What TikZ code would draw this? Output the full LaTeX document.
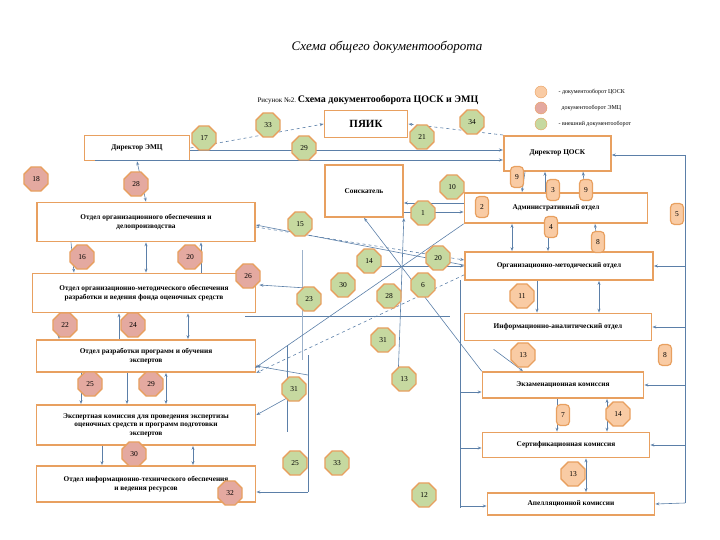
\documentclass[tikz,border=0pt]{standalone}
\usepackage{fontspec}
\setmainfont{Liberation Serif}
\usetikzlibrary{shapes.geometric,arrows.meta}
\definecolor{lc}{HTML}{5B7FA8}
\definecolor{bo}{HTML}{E8A060}
\definecolor{fo}{HTML}{F9CBA4}
\definecolor{fp}{HTML}{E4A9A0}
\definecolor{fg}{HTML}{C6D9A0}
\tikzset{
 box/.style={draw=bo,line width=1.7pt,fill=white,align=center,font=\bfseries\fontsize{7.3}{8.5}\selectfont,inner sep=1pt},
 oct/.style={regular polygon,regular polygon sides=8,draw=bo,line width=1.4pt,minimum size=26pt,inner sep=0pt,font=\fontsize{7.5}{8}\selectfont},
 gb/.style={oct,fill=fg}, pb/.style={oct,fill=fp},
 ob/.style={draw=bo,line width=1.2pt,fill=fo,rounded corners=4pt,minimum width=13pt,minimum height=21pt,inner sep=1pt,font=\fontsize{7.5}{8}\selectfont},
 ln/.style={draw=lc,line width=0.6pt,-{Stealth[length=4pt,open]}},
 bl/.style={draw=lc,line width=0.6pt,{Stealth[length=4pt,open]}-{Stealth[length=4pt,open]}},
 pl/.style={draw=lc,line width=0.6pt},
 dl/.style={ln,dashed},
}
\begin{document}
\begin{tikzpicture}[x=1pt,y=-1pt]
\useasboundingbox (0,0) rectangle (720,540);
\node (title) at (387,47) {\itshape\fontsize{13}{15}\selectfont Схема общего документооборота};
\node (sub) at (368,100) {\fontsize{7}{8}\selectfont Рисунок №2.\ \bfseries\fontsize{10}{12}\selectfont Схема документооборота ЦОСК и ЭМЦ};
% legend
\node[circle,fill=fo,draw=bo,minimum size=12pt,inner sep=0] (l1) at (541,92) {};
\node[circle,fill=fp,draw=bo,minimum size=12pt,inner sep=0] (l2) at (541,108) {};
\node[circle,fill=fg,draw=bo,minimum size=12pt,inner sep=0] (l3) at (541,124) {};
\node[anchor=west,font=\fontsize{6}{7}\selectfont] (t1) at (555,92) {- документооборот ЦОСК};
\node[anchor=west,font=\fontsize{6}{7}\selectfont] (t2) at (558,108) {документооборот ЭМЦ};
\node[anchor=west,font=\fontsize{6}{7}\selectfont] (t3) at (555,124) {- внешний документооборот};
% lines (behind)
\coordinate (rx1) at (685,155); \coordinate (rx2) at (685,503);
\draw[pl] (rx1) -- (rx2);
\coordinate (lx1) at (460,280); \coordinate (lx2) at (460,508);
\draw[pl] (lx1) -- (lx2);
\coordinate (v1a) at (287,345); \coordinate (v1b) at (287,432);
\draw[pl] (v1a) -- (v1b);
\coordinate (v2a) at (308,355); \coordinate (v2b) at (308,492);
\draw[pl] (v2a) -- (v2b);
\coordinate (h1a) at (245,316); \coordinate (h1b) at (450,316);
\draw[pl] (h1a) -- (h1b);
\coordinate (v3a) at (302,250); \coordinate (v3b) at (302,360);
\draw[pl,draw=lc!60] (v3a) -- (v3b);
% boxes
\node[box,minimum width=83pt,minimum height=27pt,font=\bfseries\fontsize{11}{12}\selectfont] (pyaik) at (366,124) {ПЯИК};
\node[box,minimum width=105pt,minimum height=25pt] (dem) at (137,148) {Директор ЭМЦ};
\node[box,minimum width=107pt,minimum height=35pt,anchor=north west] (dcosk) at (503,135) {Директор ЦОСК};
\node[box,minimum width=78pt,minimum height=52pt] (soisk) at (364,191) {Соискатель};
\node[box,minimum width=183pt,minimum height=30pt] (adm) at (556,208) {Административный отдел};
\node[box,minimum width=218pt,minimum height=39pt] (oob) at (146,222) {Отдел организационного обеспечения и\\делопроизводства};
\node[box,minimum width=188pt,minimum height=28pt] (om) at (559,266) {Организационно-методический отдел};
\node[box,minimum width=223pt,minimum height=39pt] (oomo) at (144,293) {Отдел организационно-методического обеспечения\\разработки и ведения фонда оценочных средств};
\node[box,minimum width=187pt,minimum height=27pt] (ia) at (558,327) {Информационно-аналитический отдел};
\node[box,minimum width=219pt,minimum height=32pt] (orp) at (146,356) {Отдел разработки программ и обучения\\экспертов};
\node[box,minimum width=161pt,minimum height=26pt] (ek) at (563,385) {Экзаменационная комиссия};
\node[box,minimum width=219pt,minimum height=40pt] (eksp) at (146,425) {Экспертная комиссия для проведения экспертизы\\оценочных средств и программ подготовки\\экспертов};
\node[box,minimum width=167pt,minimum height=25pt] (sk) at (566,445) {Сертификационная комиссия};
\node[box,minimum width=219pt,minimum height=36pt] (oit) at (146,484) {Отдел информационно-технического обеспечения\\и ведения ресурсов};
\node[box,minimum width=167pt,minimum height=22pt] (ak) at (571,504) {Апелляционной комиссии};
% connectors
\draw[dl] (dem.east) -- (pyaik.west);
\draw[dl] (dcosk.north west) -- (pyaik.east);
\coordinate (c150) at (190,150);
\draw[ln] (c150) -- (dcosk.west|-c150);
\coordinate (c160) at (95,160);
\draw[ln] (c160) -- (dcosk.west|-c160);
\draw[bl] (dem.south) -- (oob.north);
\coordinate (s203) at (0,203); \coordinate (s212) at (0,212);
\draw[ln] (adm.west|-s203) -- (soisk.east|-s203);
\draw[ln] (soisk.east|-s212) -- (adm.west|-s212);
\draw[ln] ([xshift=22]dcosk.south west) -- ([xshift=-34]adm.north);
\draw[ln] ([xshift=-11]adm.north) -- ([xshift=42]dcosk.south west);
\draw[ln] ([xshift=29]adm.north) -- ([xshift=80]dcosk.south west);
\draw[bl] ([xshift=-44]adm.south) -- ([xshift=-47]om.north);
\draw[ln] ([xshift=-8]adm.south) -- ([xshift=-11]om.north);
\draw[ln] ([xshift=39]om.north) -- ([xshift=39]adm.south);
\draw[ln] ([xshift=-22]om.south) -- ([xshift=-21]ia.north);
\draw[bl] ([xshift=40]om.south) -- ([xshift=41]ia.north);
\draw[ln] (rx1) -- (dcosk.east|-rx1);
\draw[ln] (685,266) -- (om.east);
\draw[ln] (685,327) -- (ia.east);
\draw[ln] (685,385) -- (ek.east);
\draw[ln] (685,445) -- (sk.east);
\draw[ln] (rx2) -- (ak.east);
\draw[ln] (460,392) -- (ek.west|-0,392);
\draw[ln] (460,448) -- (sk.west|-0,448);
\draw[ln] (460,506) -- (ak.west|-0,506);
\draw[ln] ([xshift=-6]ek.south) -- ([xshift=-9]sk.north);
\draw[bl] ([xshift=44]ek.south) -- ([xshift=41]sk.north);
\draw[bl] ([xshift=20]sk.south) -- ([xshift=15]ak.north);
\draw[ln] (ia.south west) ++(30,8) -- ([xshift=-40]ek.north);
% left column
\draw[ln] ([xshift=-75]oob.south) -- ([xshift=-70]oomo.north);
\draw[bl] (oob.south) -- ([xshift=2]oomo.north);
\draw[ln] ([xshift=57]oomo.north) -- ([xshift=55]oob.south);
\draw[ln] ([xshift=-85]oomo.south) -- ([xshift=-87]orp.north);
\draw[ln] ([xshift=-27]orp.north) -- ([xshift=-25]oomo.south);
\draw[bl] ([xshift=44]oomo.south) -- ([xshift=42]orp.north);
\draw[ln] ([xshift=-65]orp.south) -- ([xshift=-65]eksp.north);
\draw[ln] ([xshift=-19]orp.south) -- ([xshift=-19]eksp.north);
\draw[bl] ([xshift=20]orp.south) -- ([xshift=20]eksp.north);
\draw[ln] ([xshift=-44]eksp.south) -- ([xshift=-44]oit.north);
\draw[bl] ([xshift=47]eksp.south) -- ([xshift=47]oit.north);
\draw[ln] (v2b) -- (oit.east|-v2b);
\draw[ln] (308,375) -- ([yshift=-10]orp.east);
\draw[ln] (287,398) -- ([yshift=10]eksp.east);
% diagonals
\draw[ln] (om.north west) ++(0,14) -- ([yshift=-3]oob.east);
\draw[dl] (oob.east) ++(0,5) -- ([yshift=6]om.west);
\draw[ln] (adm.south west) -- (255,368);
\draw[dl] ([yshift=6]om.south west) -- (orp.south east);
\draw[ln] (ek.north west) -- (soisk.south);
\draw[ln] (398,380) -- (soisk.south east);
\draw[ln] (oomo.east) ++(50,-5) -- ([xshift=3,yshift=8]oomo.east);
\draw[ln] (om.west) ++(-90,0) -- (om.west);
% badges green
\node[gb] (g17) at (204,138) {17};
\node[gb] (g33) at (268,125) {33};
\node[gb] (g34) at (472,122) {34};
\node[gb] (g21) at (422,137) {21};
\node[gb] (g29) at (304,148) {29};
\node[gb] (g10) at (452,187) {10};
\node[gb] (g1) at (423,213) {1};
\node[gb] (g15) at (300,224) {15};
\node[gb] (g14) at (369,261) {14};
\node[gb] (g20) at (438,258) {20};
\node[gb] (g30) at (343,285) {30};
\node[gb] (g6) at (423,285) {6};
\node[gb] (g28) at (389,296) {28};
\node[gb] (g23) at (309,299) {23};
\node[gb] (g31a) at (383,340) {31};
\node[gb] (g13) at (404,379) {13};
\node[gb] (g31b) at (294,389) {31};
\node[gb] (g25) at (295,463) {25};
\node[gb] (g33b) at (337,463) {33};
\node[gb] (g12) at (424,495) {12};
% orange
\node[ob] (o9a) at (517,177) {9};
\node[ob] (o3) at (553,190) {3};
\node[ob] (o9b) at (586,190) {9};
\node[ob] (o2) at (482,207) {2};
\node[ob] (o5) at (677,214) {5};
\node[ob] (o4) at (551,227) {4};
\node[ob] (o8a) at (598,242) {8};
\node[oct,fill=fo] (o11) at (522,296) {11};
\node[oct,fill=fo] (o13a) at (523,355) {13};
\node[ob] (o8b) at (665,355) {8};
\node[ob] (o7) at (563,415) {7};
\node[oct,fill=fo] (o14) at (618,414) {14};
\node[oct,fill=fo] (o13b) at (573,474) {13};
% pink
\node[pb] (p18) at (36,179) {18};
\node[pb] (p28) at (136,184) {28};
\node[pb] (p16) at (82,257) {16};
\node[pb] (p20) at (190,257) {20};
\node[pb] (p26) at (248,276) {26};
\node[pb] (p22) at (65,325) {22};
\node[pb] (p24) at (133,325) {24};
\node[pb] (p25) at (90,384) {25};
\node[pb] (p29) at (151,384) {29};
\node[pb] (p30) at (134,454) {30};
\node[pb] (p32) at (230,493) {32};
\end{tikzpicture}
\end{document}
